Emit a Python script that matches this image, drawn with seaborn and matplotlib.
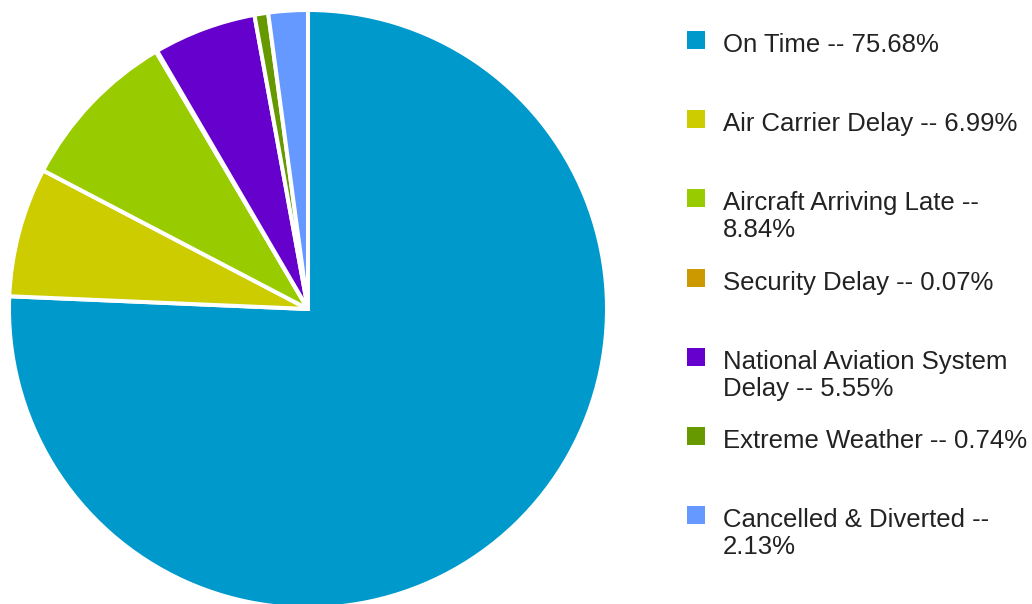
import textwrap

import matplotlib
matplotlib.use("Agg")
import matplotlib.pyplot as plt
import seaborn as sns
from matplotlib.patches import Rectangle

# data
categories = ["On Time", "Air Carrier Delay", "Aircraft Arriving Late", "Security Delay",
              "National Aviation System Delay", "Extreme Weather", "Cancelled & Diverted"]
shares = [75.68, 6.99, 8.84, 0.07, 5.55, 0.74, 2.13]
colors = ["#0099cc", "#cccc00", "#99cc00", "#cc9900", "#6600cc", "#669900", "#6699ff"]

sns.set_theme(style="white")
plt.rcParams['font.family'] = ['Liberation Sans', 'DejaVu Sans']

W, H = 1032, 604
fig = plt.figure(figsize=(W / 100, H / 100), dpi=100, facecolor='white')

# pie: centre (308, 309) px, visible radius ~297 px
cx, cy, half = 308, 309, 310
ax = fig.add_axes([(cx - half) / W, (H - cy - half) / H, 2 * half / W, 2 * half / H])
ax.pie(shares, colors=colors, startangle=90, counterclock=False, radius=299 / half,
       wedgeprops=dict(edgecolor='white', linewidth=2.9, joinstyle='round'))
ax.set_xlim(-1, 1)
ax.set_ylim(-1, 1)
ax.set_aspect('equal')
ax.axis('off')

# legend, one entry every ~79 px, square aligned with first text line
labels = [textwrap.fill(f"{c} -- {s:.2f}%", width=26) for c, s in zip(categories, shares)]
for i, (lab, col) in enumerate(zip(labels, colors)):
    top = 31 + i * 79.2
    fig.add_artist(Rectangle((687 / W, 1 - (top + 18) / H), 18 / W, 18 / H,
                             transform=fig.transFigure, facecolor=col, edgecolor='none'))
    for j, line in enumerate(lab.split('\n')):
        fig.text(723 / W, 1 - (top + 21 + j * 27) / H, line, va='baseline', ha='left',
                 fontsize=18.5, color='#222222')

fig.savefig('out.png', dpi=100, facecolor='white')
